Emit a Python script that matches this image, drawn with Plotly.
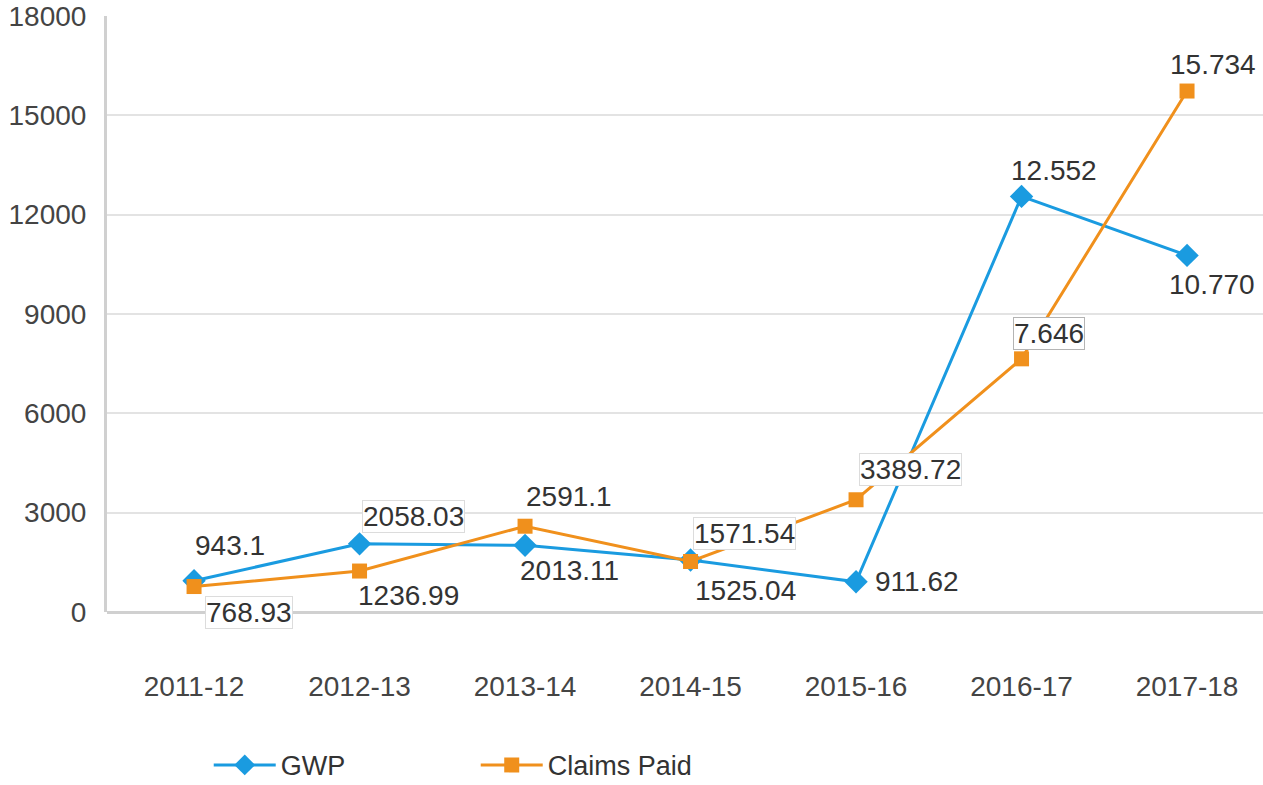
import plotly.graph_objects as go

# Financial years on the x axis
years = ["2011-12", "2012-13", "2013-14", "2014-15", "2015-16", "2016-17", "2017-18"]

# Gross written premium and claims paid
gwp = [943.1, 2058.03, 2013.11, 1571.54, 911.62, 12552, 10770]
claims = [768.93, 1236.99, 2591.1, 1525.04, 3389.72, 7646, 15734]

# Text shown beside each point
gwp_text = ["943.1", "2058.03", "2013.11", "1571.54", "911.62", "12.552", "10.770"]
claims_text = ["768.93", "1236.99", "2591.1", "1525.04", "3389.72", "7.646", "15.734"]

# Y axis ticks
y_ticks = [0, 3000, 6000, 9000, 12000, 15000, 18000]

BLUE = "#1a9be0"
ORANGE = "#f0901c"
FONT = "Liberation Sans, Arial, sans-serif"

fig = go.Figure()
fig.add_trace(go.Scatter(
    x=years, y=gwp, name="GWP", mode="lines+markers",
    line=dict(color=BLUE, width=3),
    marker=dict(symbol="diamond", size=18, color=BLUE),
))
fig.add_trace(go.Scatter(
    x=years, y=claims, name="Claims Paid", mode="lines+markers",
    line=dict(color=ORANGE, width=3),
    marker=dict(symbol="square", size=15, color=ORANGE),
))

# label offsets (px), and border colour when the label sits on a white box
gwp_lbl = [(36, 35, None), (54, 27, "#dcdcdc"), (44, -25, None), (54, 26, "#dcdcdc"),
           (61, 0, None), (32, 26, None), (25, -29, None)]
claims_lbl = [(55, -26, "#dcdcdc"), (49, -24, None), (44, 30, None), (55, -29, None),
              (54, 30, "#dcdcdc"), (27, 25, "#b4b4b4"), (26, 27, None)]

for ys, texts, offs in ((gwp, gwp_text, gwp_lbl), (claims, claims_text, claims_lbl)):
    for xv, yv, t, (dx, dy, border) in zip(years, ys, texts, offs):
        fig.add_annotation(
            x=xv, y=yv, text=t, showarrow=False, xshift=dx, yshift=dy,
            font=dict(family=FONT, size=28, color="#333333"),
            bgcolor="white" if border else "rgba(0,0,0,0)",
            bordercolor=border if border else "rgba(0,0,0,0)",
            borderwidth=1, borderpad=0,
        )

fig.update_layout(
    width=1263, height=785,
    margin=dict(l=107, r=0, t=16, b=173),
    paper_bgcolor="white", plot_bgcolor="white",
    font=dict(family=FONT, size=28, color="#444444"),
    showlegend=True,
    legend=dict(
        orientation="h", x=0.088, xanchor="left",
        yref="container", y=0.025, yanchor="middle",
        font=dict(family=FONT, size=27, color="#333333"),
        itemwidth=62, entrywidth=190,
    ),
)
fig.update_xaxes(
    type="category", range=[-0.526, 6.459],
    showgrid=False, showline=False, zeroline=False,
    ticks="", ticklabelstandoff=55,
    tickfont=dict(family=FONT, size=28, color="#444444"),
)
fig.update_yaxes(
    range=[0, 18000], tickvals=y_ticks, ticktext=[str(v) for v in y_ticks],
    showgrid=True, gridcolor="#e3e3e3", gridwidth=2,
    showline=True, linecolor="#d0d0d0", linewidth=3,
    zeroline=True, zerolinecolor="#d0d0d0", zerolinewidth=3,
    ticks="", ticklabelstandoff=12,
    tickfont=dict(family=FONT, size=28, color="#444444"),
)

fig.write_html("out.html")
